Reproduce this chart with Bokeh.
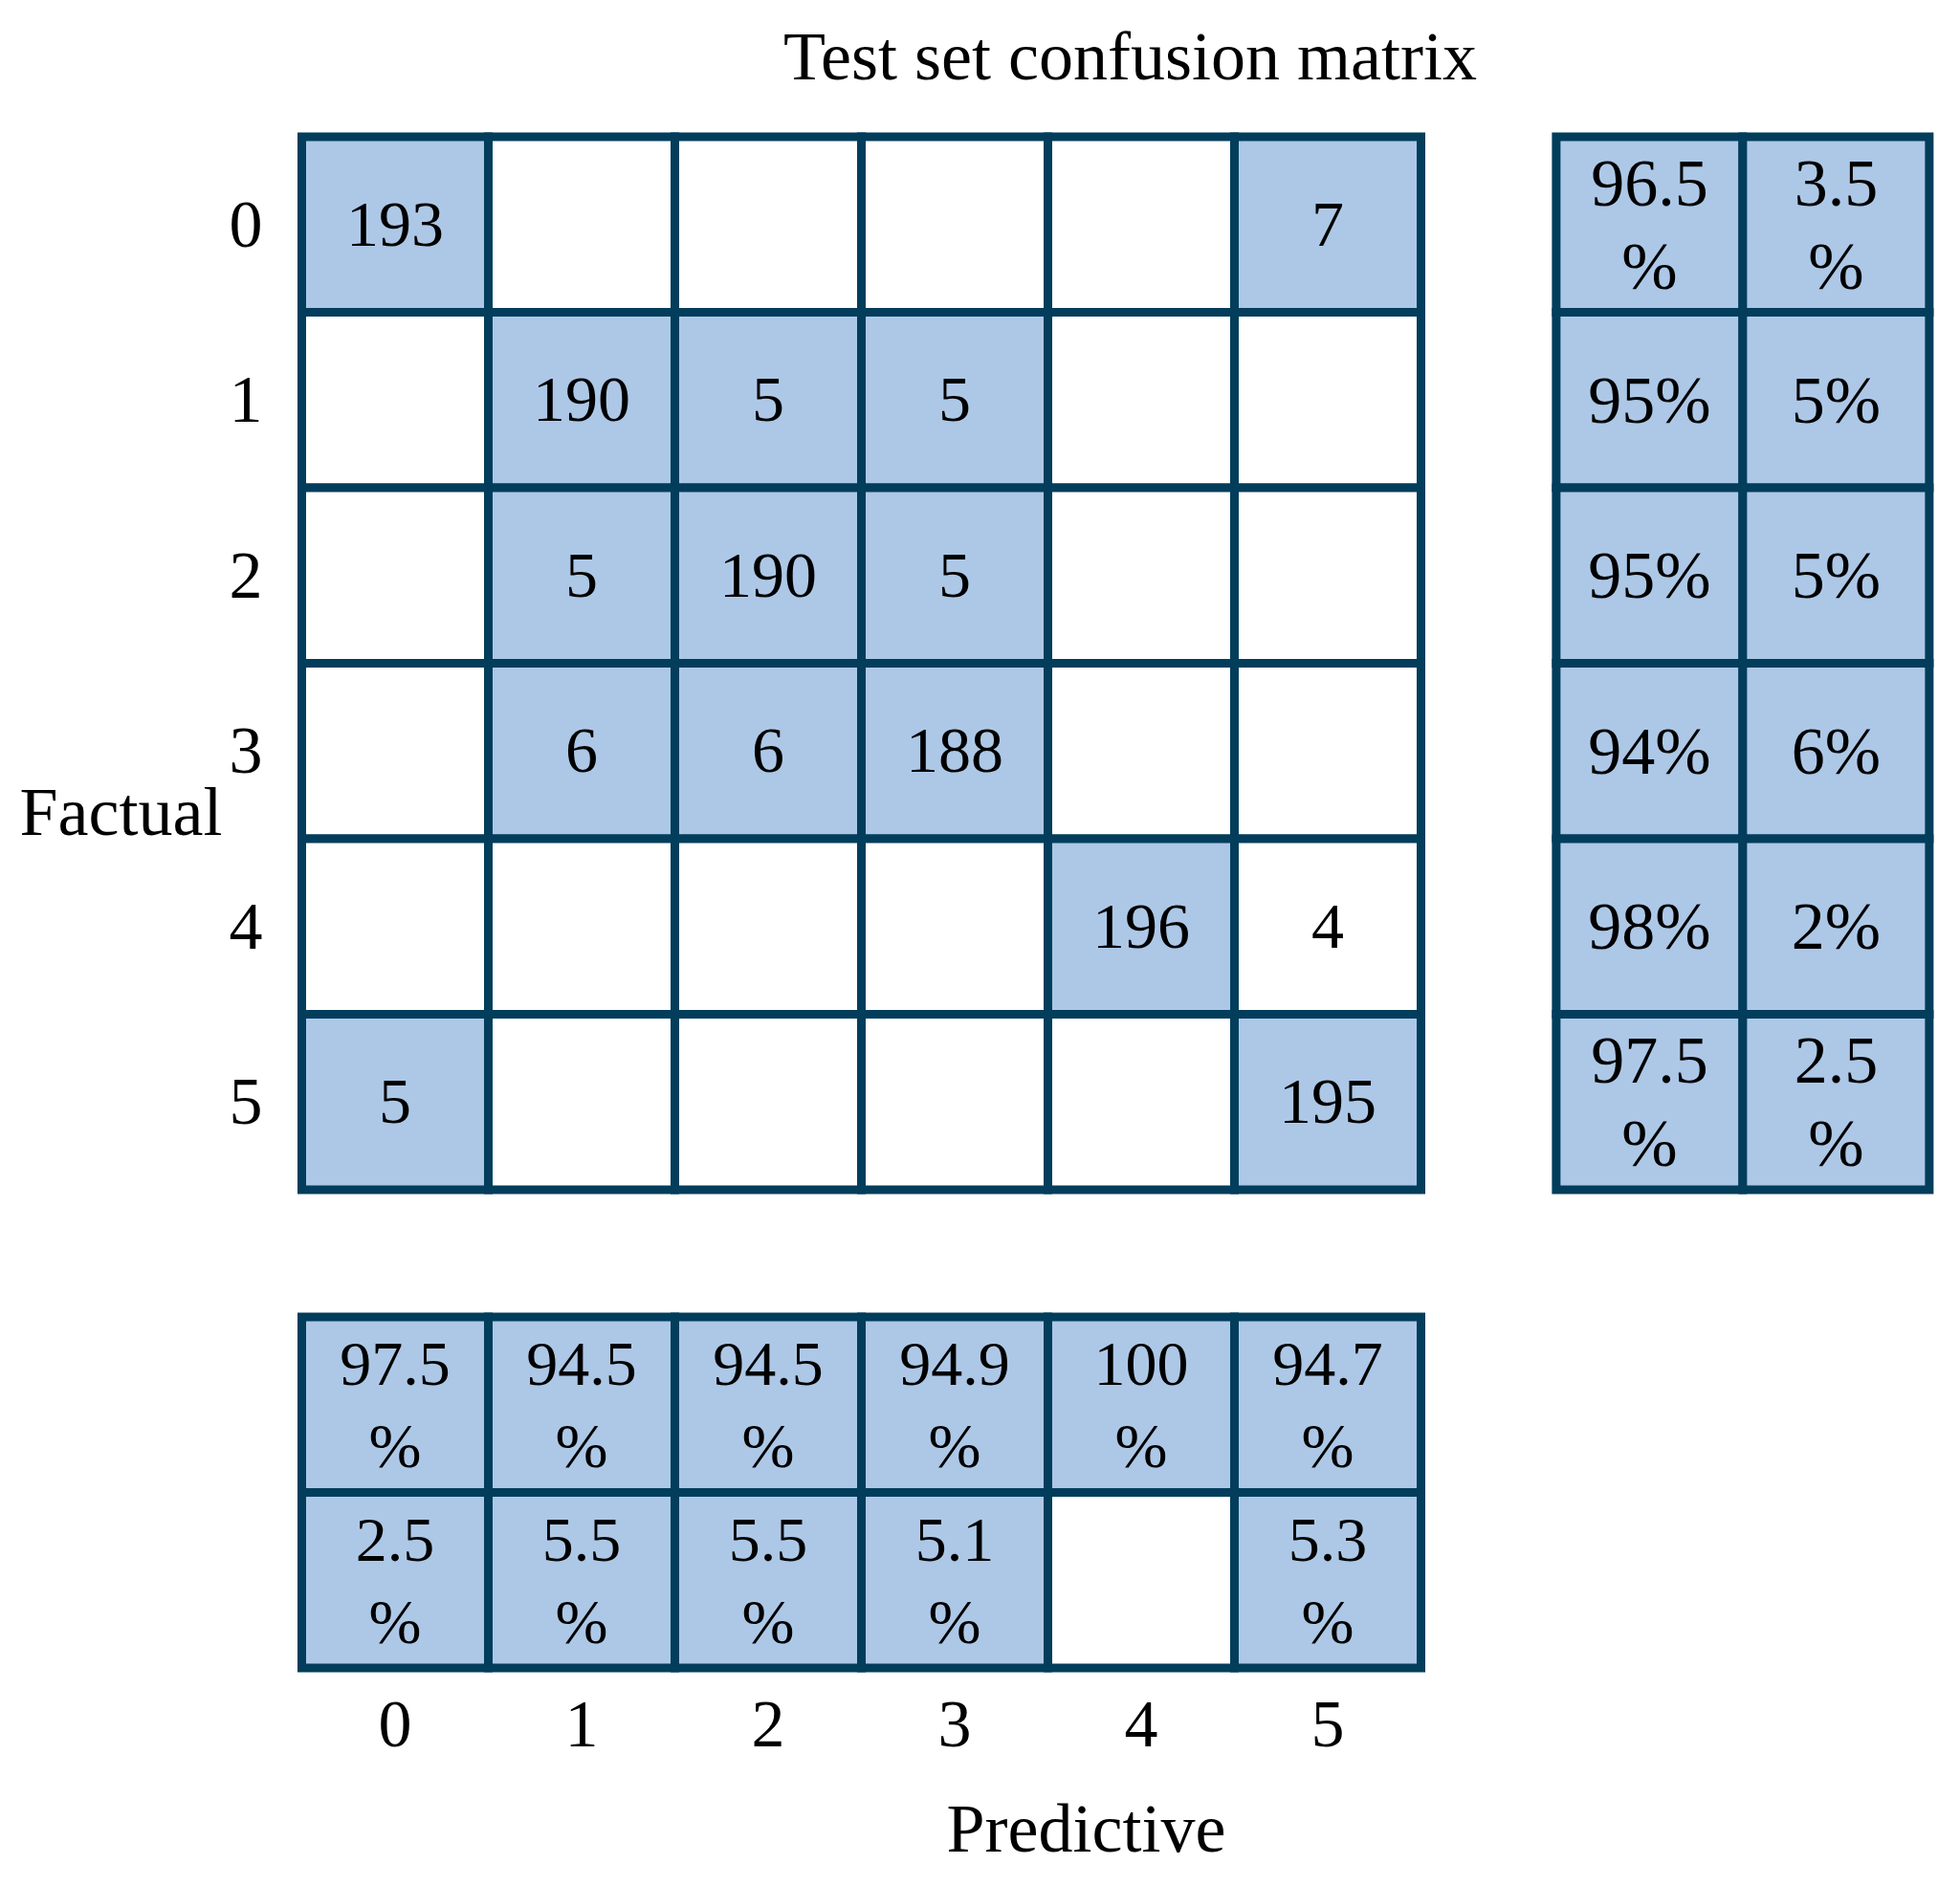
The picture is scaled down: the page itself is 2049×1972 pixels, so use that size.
from bokeh.plotting import figure
from bokeh.models import Range1d, ColumnDataSource
from bokeh.core.properties import value
from bokeh.embed import file_html
from bokeh.resources import INLINE

# ---------------- data ----------------
title_text = "Test set confusion matrix"
classes = ["0", "1", "2", "3", "4", "5"]
x_label = "Predictive"
y_label = "Factual"

counts = [
    [193, 0, 0, 0, 0, 7],
    [0, 190, 5, 5, 0, 0],
    [0, 5, 190, 5, 0, 0],
    [0, 6, 6, 188, 0, 0],
    [0, 0, 0, 0, 196, 4],
    [5, 0, 0, 0, 0, 195],
]
row_correct_pct = [96.5, 95, 95, 94, 98, 97.5]
row_error_pct = [3.5, 5, 5, 6, 2, 2.5]
col_correct_pct = [97.5, 94.5, 94.5, 94.9, 100, 94.7]
col_error_pct = [2.5, 5.5, 5.5, 5.1, 0, 5.3]

# ---------------- style ----------------
FILL = "#ADC8E7"
EDGE = "#023D5B"
FONT = value("Liberation Serif")
N = len(classes)
GAP = 0.725

PX_X = 195.0   # pixels per data unit (x)
PX_Y = 183.5   # pixels per data unit (y)
W, H = 2040, 1964
x0 = -315 / PX_X
y0 = -142.5 / PX_Y

p = figure(width=W, height=H, output_backend="svg", toolbar_location=None,
           x_range=Range1d(x0, x0 + W / PX_X),
           y_range=Range1d(y0 + H / PX_Y, y0),
           x_axis_location=None, y_axis_location=None,
           min_border=0, outline_line_color=None,
           background_fill_color="white", border_fill_color="white")
p.xgrid.visible = False
p.ygrid.visible = False


def pct_label(v, always_wrap=False):
    if v == 0:
        return ""
    s = f"{v:g}%"
    if len(s) > 3 or always_wrap:
        s = s[:-1] + "\n%"
    return s


# main matrix
m = dict(left=[], right=[], top=[], bottom=[], x=[], y=[], fill=[], label=[])
for r in range(N):
    for c in range(N):
        v = counts[r][c]
        m["left"].append(c); m["right"].append(c + 1)
        m["top"].append(r); m["bottom"].append(r + 1)
        m["x"].append(c + 0.5); m["y"].append(r + 0.5)
        m["fill"].append(FILL if v >= 5 else "white")
        m["label"].append(str(v) if v > 0 else "")
ms = ColumnDataSource(m)

# right block (row-wise rates)
rb = dict(left=[], right=[], top=[], bottom=[], x=[], y=[], fill=[], label=[])
for r in range(N):
    for k, arr in enumerate([row_correct_pct, row_error_pct]):
        v = arr[r]
        L = N + GAP + k
        rb["left"].append(L); rb["right"].append(L + 1)
        rb["top"].append(r); rb["bottom"].append(r + 1)
        rb["x"].append(L + 0.5); rb["y"].append(r + 0.5)
        rb["fill"].append(FILL if v > 0 else "white")
        rb["label"].append(pct_label(v))
rs = ColumnDataSource(rb)

# bottom block (column-wise rates)
bb = dict(left=[], right=[], top=[], bottom=[], x=[], y=[], fill=[], label=[])
for k, arr in enumerate([col_correct_pct, col_error_pct]):
    for c in range(N):
        v = arr[c]
        T = N + GAP + k
        bb["left"].append(c); bb["right"].append(c + 1)
        bb["top"].append(T); bb["bottom"].append(T + 1)
        bb["x"].append(c + 0.5); bb["y"].append(T + 0.5)
        bb["fill"].append(FILL if v > 0 else "white")
        bb["label"].append(pct_label(v, always_wrap=True))
bs = ColumnDataSource(bb)

for src in (ms, rs, bs):
    p.quad(left="left", right="right", top="top", bottom="bottom", source=src,
           fill_color="fill", line_color=EDGE, line_width=9, line_join="miter")

p.text(x="x", y="y", text="label", source=ms, text_font=FONT,
       text_font_size="68px", text_align="center", text_baseline="middle",
       text_color="black")
p.text(x="x", y="y", text="label", source=rs, text_font=FONT,
       text_font_size="70px", text_align="center", text_baseline="middle",
       text_line_height=1.13, text_color="black")
p.text(x="x", y="y", text="label", source=bs, text_font=FONT,
       text_font_size="66px", text_align="center", text_baseline="middle",
       text_line_height=1.18, text_color="black")

# tick labels
p.text(x=[-0.30] * N, y=[i + 0.5 for i in range(N)], text=classes, text_font=FONT,
       text_font_size="70px", text_align="center", text_baseline="middle",
       text_color="black")
p.text(x=[i + 0.5 for i in range(N)], y=[N + GAP + 2 + 0.324] * N, text=classes,
       text_font=FONT, text_font_size="70px", text_align="center",
       text_baseline="middle", text_color="black")

# axis titles and chart title
p.text(x=[(20 - 315) / PX_X], y=[3.85], text=[y_label], text_font=FONT,
       text_font_size="72px", text_align="left", text_baseline="middle",
       text_color="black")
p.text(x=[4.205], y=[9.638], text=[x_label], text_font=FONT,
       text_font_size="72px", text_align="center", text_baseline="middle",
       text_color="black")
p.text(x=[4.441], y=[-0.46], text=[title_text], text_font=FONT,
       text_font_size="72px", text_align="center", text_baseline="middle",
       text_color="black")

open("out.html", "w").write(file_html(p, INLINE))
